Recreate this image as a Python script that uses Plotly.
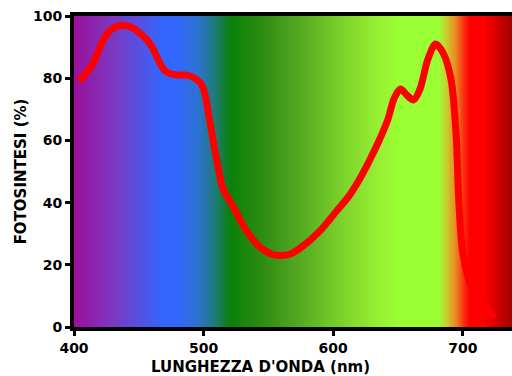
import numpy as np
import plotly.graph_objects as go

# Photosynthesis action spectrum
wavelength = [404, 410, 415, 420, 425, 432, 438, 446, 452, 457, 461, 466, 470, 474, 480, 487, 495, 499,
              502, 504, 506.5, 510, 515, 523, 533, 544, 552, 559, 567, 575, 590, 603, 612, 621, 631, 642,
              647, 652, 657, 662, 667, 673, 679, 685, 691, 695, 697, 700, 706, 716, 724]
photosynthesis = [79, 82, 85, 90, 94, 96.5, 97, 96, 94, 92, 89.5, 85, 82.5, 81.5, 81, 81, 79.5, 77.5,
                  73, 68, 62, 54, 44.5, 38.5, 31, 25.5, 23.5, 23, 23.5, 25.5, 31, 37.5, 42, 48, 56, 66.5,
                  73.5, 76.5, 74.5, 73, 76.5, 86, 91, 88, 79.5, 61, 40, 24, 14, 8, 3]

# Background spectrum colours
spectrum_nm = [400, 430, 468, 478, 495, 508, 520, 545, 575, 610, 638, 650, 681, 687, 694, 701, 705, 716, 738]
spectrum_col = ["#9b109b", "#7c38c0", "#3366ff", "#3366ff", "#2d72d4", "#1f7a7c", "#0a800a", "#2e8c12",
                "#56aa22", "#80d62c", "#99f333", "#99ff33", "#99ff33", "#c8d030", "#e88c22", "#fa2a10",
                "#ff0000", "#ff0000", "#a00000"]

x_range = [400, 738]
y_range = [0, 100]
x_ticks = [400, 500, 600, 700]
y_ticks = [0, 20, 40, 60, 80, 100]
x_title = "LUNGHEZZA D'ONDA (nm)"
y_title = "FOTOSINTESI (%)"

lo, hi = x_range
cscale = [[(w - lo) / (hi - lo), c] for w, c in zip(spectrum_nm, spectrum_col)]
bg_x = np.arange(lo, hi + 0.5, 0.5)

fig = go.Figure()
fig.add_trace(go.Heatmap(x=bg_x, y=y_range, z=[bg_x, bg_x], colorscale=cscale, zmin=lo, zmax=hi,
                         showscale=False, hoverinfo="skip", zsmooth="best"))
fig.add_trace(go.Scatter(x=wavelength, y=photosynthesis, mode="lines",
                         line=dict(color="#ff0000", width=7, shape="spline", smoothing=0.8),
                         hoverinfo="skip"))

font_family = "DejaVu Sans"
bold = dict(family=font_family, color="black", weight="bold")
fig.update_layout(
    width=512, height=376,
    margin=dict(l=74, r=0, t=16, b=49),
    paper_bgcolor="white", plot_bgcolor="white",
    showlegend=False,
    font=dict(family=font_family, color="black"),
    annotations=[
        dict(text=x_title, xref="paper", yref="paper", x=0.425, y=0, yshift=-40,
             xanchor="center", yanchor="middle", showarrow=False, font=dict(size=15, **bold)),
    ],
)
fig.update_xaxes(range=x_range, tickvals=x_ticks, ticks="outside", ticklen=5, tickwidth=3,
                 tickcolor="black", showline=True, linewidth=4, linecolor="black", mirror=True,
                 showgrid=False, zeroline=False,
                 tickfont=dict(size=14, **bold))
fig.update_yaxes(range=y_range, tickvals=y_ticks, ticks="outside", ticklen=5, tickwidth=3,
                 tickcolor="black", showline=True, linewidth=4, linecolor="black",
                 showgrid=False, zeroline=False,
                 tickfont=dict(size=14, **bold),
                 title=dict(text=y_title, standoff=4, font=dict(size=15, **bold)))

fig.write_html("out.html", config={"displayModeBar": False},
               post_script="document.body.style.margin='0';document.body.style.overflow='hidden';")
